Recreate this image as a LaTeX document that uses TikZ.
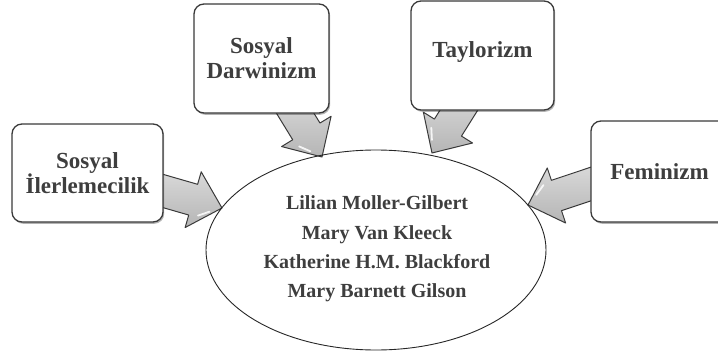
\documentclass[tikz,border=0pt]{standalone}
\usepackage{fontspec}
\setmainfont{Liberation Serif}
\usetikzlibrary{calc,shadows,shapes.geometric}
\definecolor{txt}{HTML}{3E3E3E}
\definecolor{edgec}{HTML}{3A3A3A}
\newcommand\blkarrow[2]{%
  \coordinate (H) at ($(#2)!30pt!(#1)$);
  \coordinate (H1) at ($(H)!9pt!(#2)$);
  \coordinate (H2) at ($(H)!19pt!(#2)$);
  \draw[arr] ($(#1)!16pt!90:(#2)$) -- ($(H)!16pt!90:(#2)$) -- ($(H)!29pt!90:(#2)$) -- (#2)
     -- ($(H)!29pt!-90:(#2)$) -- ($(H)!16pt!-90:(#2)$) -- ($(#1)!16pt!-90:(#2)$) -- cycle;
  \draw[hilite] ($(H1)!14pt!-90:(#2)$) -- ($(H2)!7pt!-90:(#2)$);
}
\begin{document}
\begin{tikzpicture}[x=1pt,y=-1pt,
  box/.style={draw=edgec, line width=1.3pt, rounded corners=10pt, fill=white,
    drop shadow={shadow xshift=1.2pt, shadow yshift=-1.8pt, opacity=0.3, fill=black},
    font=\bfseries\fontsize{23}{25}\selectfont, text=txt, align=center, inner sep=0pt},
  arr/.style={draw=edgec, line width=1pt, line join=round, top color=gray!30, bottom color=gray!58},
  hilite/.style={white, line width=1.8pt, line cap=round, opacity=0.85},
  names/.style={font=\bfseries\fontsize{20}{29.3}\selectfont, text=txt, align=center}
]
\useasboundingbox (0,0) rectangle (718,353);
% arrow coordinates
\coordinate (t1) at (153.4,188.2); \coordinate (p1) at (222,208);
\coordinate (t2) at (289.8,104.4); \coordinate (p2) at (322,157);
\coordinate (t3) at (464.3,101.5); \coordinate (p3) at (432,153);
\coordinate (t4) at (600.5,180.8); \coordinate (p4) at (528,205);
\blkarrow{t1}{p1}
\blkarrow{t2}{p2}
\blkarrow{t3}{p3}
\blkarrow{t4}{p4}
% boxes
\node[box, minimum width=151pt, minimum height=98pt] (b1) at (87.5,173)
  {\fontsize{23}{27}\selectfont Sosyal\\İlerlemecilik};
\node[box, minimum width=135pt, minimum height=109pt] (b2) at (261.5,58.5)
  {\fontsize{23}{22}\selectfont Sosyal\\Darwinizm};
\node[box, minimum width=143pt, minimum height=109pt] (b3) at (482.5,55.5) {};
\node[font=\bfseries\fontsize{23}{25}\selectfont, text=txt] (t3l) at (482.5,52) {Taylorizm};
\node[box, minimum width=137pt, minimum height=101pt] (b4) at (659.5,171.5) {Feminizm};
% ellipse
\node[draw=black!85, line width=0.9pt, ellipse, minimum width=340pt, minimum height=200pt, inner sep=0pt] (el) at (376,250) {};
\node[names] (nm) at (377,249) {Lilian Moller-Gilbert\\Mary Van Kleeck\\Katherine H.M. Blackford\\Mary Barnett Gilson};
\end{tikzpicture}
\end{document}
